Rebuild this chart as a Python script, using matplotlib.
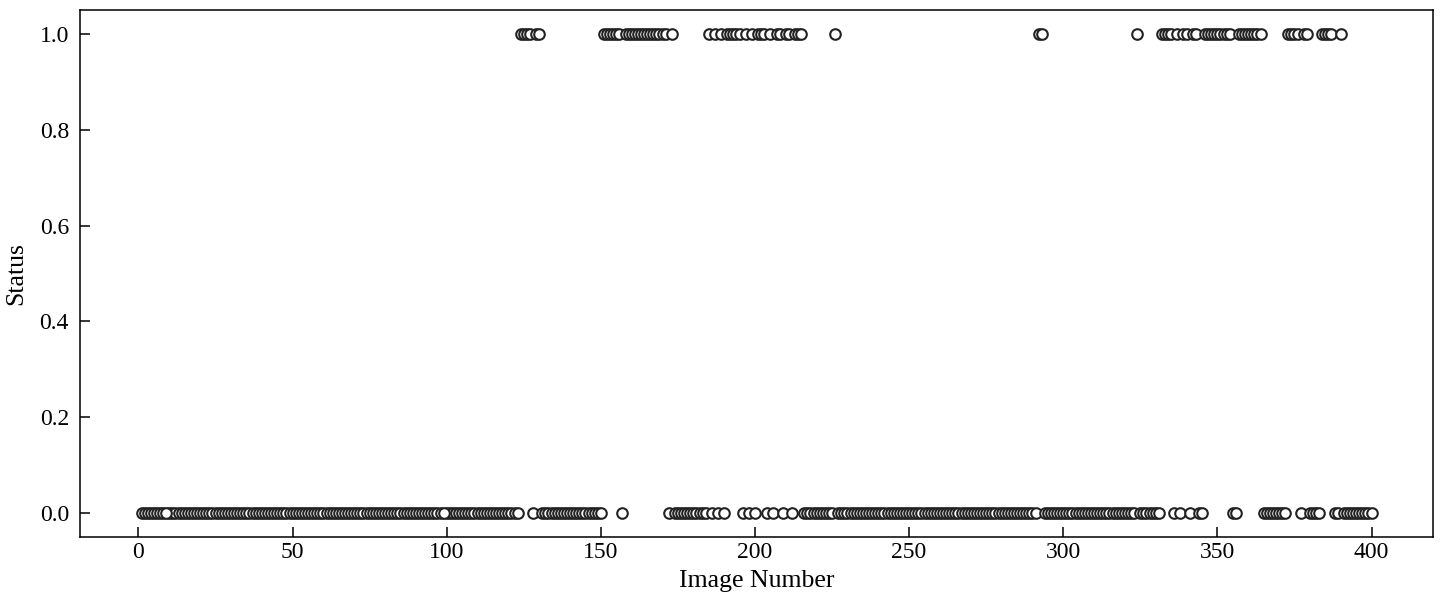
import matplotlib
matplotlib.use("Agg")
import matplotlib.pyplot as plt

# image numbers 1..400, status is 1 for these images, 0 for the rest
n_images = 400
positive = ([124, 125, 126, 127, 129, 130]
            + list(range(151, 157)) + list(range(158, 172)) + [173]
            + [185, 187, 189, 191, 192, 193, 194, 195, 197, 199, 201, 202, 203,
               205, 207, 208, 210, 211, 213, 214, 215]
            + [226, 292, 293, 324]
            + [332, 333, 334, 335, 337, 339, 340, 342, 343]
            + list(range(346, 355)) + list(range(357, 365))
            + [373, 374, 375, 376, 378, 379, 384, 385, 386, 387, 390])

images = list(range(1, n_images + 1))
status = [1 if i in positive else 0 for i in images]

# files were read in name order ("1", "10", "100", ...)
order = sorted(range(len(images)), key=lambda k: str(images[k]))
xs = [images[k] for k in order]
ys = [status[k] for k in order]

plt.rcParams['font.family'] = ['Liberation Serif', 'DejaVu Serif']

fig = plt.figure(figsize=(14.45, 6.03), dpi=100)
ax = fig.add_axes([0.0554, 0.1095, 0.9363, 0.874])
ax.scatter(xs, ys, s=58, facecolors='white', edgecolors='#222222', linewidths=1.5)

ax.set_xlabel("Image Number", fontsize=18.5, labelpad=5)
ax.set_ylabel("Status", fontsize=18.5, labelpad=9)
ax.tick_params(direction='in', labelsize=17, length=7, width=1.1)
ax.tick_params(axis='y', pad=8)
for s in ax.spines.values():
    s.set_linewidth(1.1)

plt.savefig("out.png", dpi=100)
